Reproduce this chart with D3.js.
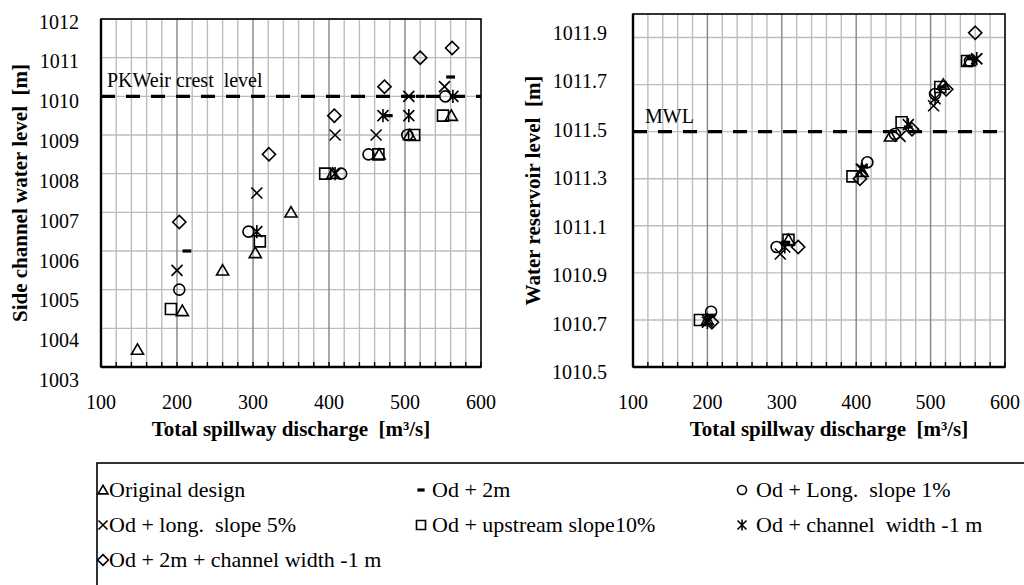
<!DOCTYPE html>
<html><head><meta charset="utf-8">
<script src="https://cdn.jsdelivr.net/npm/d3@7"></script>
<style>body{margin:0;background:#fff} text{white-space:pre}</style></head>
<body><svg id="c" width="1024" height="585" xmlns="http://www.w3.org/2000/svg"></svg>
<script>
// ---------- DATA ----------
const seriesNames = ["Original design","Od + 2m","Od + Long.  slope 1%","Od + long.  slope 5%","Od + upstream slope10%","Od + channel  width -1 m","Od + 2m + channel width -1 m"];
const seriesSymbols = ["triangle","dash","circle","x","square","asterisk","diamond"];
const xTicks = [100,200,300,400,500,600];
const leftYTicks = [1003,1004,1005,1006,1007,1008,1009,1010,1011,1012];
const rightYTicks = [1010.5,1010.7,1010.9,1011.1,1011.3,1011.5,1011.7,1011.9];
const leftRefLevel = 1010, leftRefLabel = "PKWeir crest  level";
const rightRefLevel = 1011.5, rightRefLabel = "MWL";
const xTitle = "Total spillway discharge  [m³/s]";
const leftYTitle = "Side channel water level  [m]";
const rightYTitle = "Water reservoir level  [m]";

// Side channel water level [m] vs discharge
const sideOriginal  = [[148,1003.45],[207,1004.45],[260,1005.5],[303,1005.95],[350,1007],[405,1008],[466,1008.5],[506,1009],[561,1009.5]];
const sidePlus2m    = [[213,1006.0],[478,1009.5],[520,1010.0],[560,1010.5]];
const sideSlope1    = [[203,1005],[294,1006.5],[416,1008],[452,1008.5],[503,1009],[553,1010]];
const sideSlope5    = [[200,1005.5],[305,1007.5],[408,1009],[462,1009],[505,1010],[552,1010.25]];
const sideUpstream  = [[192,1004.5],[309,1006.25],[395,1008],[465,1008.5],[512,1009],[550,1009.5]];
const sideWidth     = [[305,1006.5],[408,1008],[471,1009.5],[505,1009.5],[563,1010]];
const side2mWidth   = [[203,1006.75],[321,1008.5],[407,1009.5],[473,1010.25],[520,1011],[562,1011.25]];

// Water reservoir level [m] vs discharge
const resOriginal   = [[200,1010.70],[309,1011.04],[408,1011.33],[446,1011.48],[517,1011.70],[552,1011.80]];
const resPlus2m     = [[205,1010.72],[305,1011.03],[410,1011.35],[470,1011.52],[515,1011.69],[555,1011.81]];
const resSlope1     = [[205,1010.735],[293,1011.01],[415,1011.37],[452,1011.49],[506,1011.66],[553,1011.80]];
const resSlope5     = [[200,1010.70],[298,1010.98],[408,1011.34],[459,1011.48],[504,1011.61],[562,1011.81]];
const resUpstream   = [[190,1010.70],[309,1011.04],[395,1011.31],[461,1011.54],[513,1011.69],[549,1011.80]];
const resWidth      = [[200,1010.69],[304,1011.01],[407,1011.34],[470,1011.53],[506,1011.64],[562,1011.81]];
const res2mWidth    = [[206,1010.69],[322,1011.01],[405,1011.30],[475,1011.51],[521,1011.68],[560,1011.92]];

const leftSeries  = [sideOriginal, sidePlus2m, sideSlope1, sideSlope5, sideUpstream, sideWidth, side2mWidth];
const rightSeries = [resOriginal, resPlus2m, resSlope1, resSlope5, resUpstream, resWidth, res2mWidth];

// ---------- DRAW ----------
const svg = d3.select("#c");
const FONT = "'Liberation Serif','Times New Roman',serif";
svg.append("rect").attr("width",1024).attr("height",585).attr("fill","#fff");

function markerPath(type, s) {
  switch (type) {
    case "triangle": return `M0,${-s*1.05}L${s*1.1},${s*0.85}L${-s*1.1},${s*0.85}Z`;
    case "circle": return d3.symbol(d3.symbolCircle, Math.PI*s*s)();
    case "square": return `M${-s},${-s}H${s}V${s}H${-s}Z`;
    case "diamond": { const d=s*1.2; return `M0,${-d}L${d},0L0,${d}L${-d},0Z`; }
    case "x": return `M${-s},${-s}L${s},${s}M${s},${-s}L${-s},${s}`;
    case "asterisk": return `M${-s},${-s}L${s},${s}M${s},${-s}L${-s},${s}M0,${-s*1.2}L0,${s*1.2}`;
  }
}
function drawMarker(g, type, x, y, s) {
  if (type === "dash") {
    g.append("rect").attr("x", x - s*0.8).attr("y", y - 1.6).attr("width", s*1.6).attr("height", 3.2).attr("fill", "#000");
  } else {
    g.append("path").attr("d", markerPath(type, s)).attr("transform", `translate(${x},${y})`)
      .attr("fill", "none").attr("stroke", "#000").attr("stroke-width", 1.6);
  }
}

function chart(opt) {
  const g = svg.append("g");
  const x = d3.scaleLinear().domain([100,600]).range(opt.xr);
  const y = d3.scaleLinear().domain(opt.yd).range(opt.yr);
  const yLab = d3.scaleLinear().domain([opt.yTicks[0], opt.yTicks[opt.yTicks.length-1]]).range(opt.labR);
  const [x0,x1] = opt.xr, [yb,yt] = opt.yr;
  const minor = d3.range(120, 600, 20).filter(v => v % 100 !== 0);
  g.selectAll(".vmin").data(minor).join("line")
    .attr("x1", d=>x(d)).attr("x2", d=>x(d)).attr("y1", yb).attr("y2", yt)
    .attr("stroke", "#bdbdbd").attr("stroke-width", 1.4);
  g.selectAll(".hg").data(opt.yTicks.filter(v => v !== opt.yd[0])).join("line")
    .attr("x1", x0).attr("x2", x1).attr("y1", d=>y(d)).attr("y2", d=>y(d))
    .attr("stroke", "#bdbdbd").attr("stroke-width", 1.4);
  g.selectAll(".vmaj").data(xTicks.slice(1, -1)).join("line")
    .attr("x1", d=>x(d)).attr("x2", d=>x(d)).attr("y1", yb).attr("y2", yt)
    .attr("stroke", "#858585").attr("stroke-width", 1.4);
  g.append("line").attr("x1", x0).attr("x2", x1).attr("y1", y(opt.ref)).attr("y2", y(opt.ref))
    .attr("stroke", "#000").attr("stroke-width", 3.2).attr("stroke-dasharray", "14,11");
  g.append("text").attr("x", opt.refX).attr("y", y(opt.ref) + opt.refDy).text(opt.refLabel)
    .attr("font-family", FONT).attr("font-size", 20).attr("fill", "#000");
  g.selectAll(".bt").data(d3.range(100, 601, 20)).join("line")
    .attr("x1", d=>x(d)).attr("x2", d=>x(d)).attr("y1", yb).attr("y2", yb - 5)
    .attr("stroke", "#000").attr("stroke-width", 1.4);
  g.append("rect").attr("x", x0).attr("y", yt).attr("width", x1 - x0).attr("height", yb - yt)
    .attr("fill", "none").attr("stroke", "#000").attr("stroke-width", 1.6);
  g.append("line").attr("x1", x0).attr("x2", x0).attr("y1", yt).attr("y2", yb).attr("stroke", "#000").attr("stroke-width", 2.4);
  g.append("line").attr("x1", x0).attr("x2", x1).attr("y1", yb).attr("y2", yb).attr("stroke", "#000").attr("stroke-width", 2.4);
  g.selectAll(".xl").data(xTicks).join("text")
    .attr("x", d=>x(d)).attr("y", opt.xLabY).attr("text-anchor", "middle").text(d=>d)
    .attr("font-family", FONT).attr("font-size", 20).attr("fill", "#000");
  g.selectAll(".yl").data(opt.yTicks).join("text")
    .attr("x", opt.yLabX).attr("y", d=>yLab(d)).attr("dy", "0.35em").attr("text-anchor", "end")
    .text(d => opt.fmt(d))
    .attr("font-family", FONT).attr("font-size", 20).attr("fill", "#000");
  g.append("text").attr("x", (x0 + x1)/2 + opt.xTitleDx).attr("y", opt.xTitleY).attr("text-anchor", "middle").text(xTitle)
    .attr("font-family", FONT).attr("font-size", 21).attr("font-weight", "bold");
  g.append("text").attr("transform", `translate(${opt.yTitleX},${(yb+yt)/2}) rotate(-90)`).attr("text-anchor", "middle")
    .attr("dy", "0.35em").text(opt.yTitle)
    .attr("font-family", FONT).attr("font-size", 21).attr("font-weight", "bold");
  opt.series.forEach((pts, i) => {
    pts.forEach(p => drawMarker(g, seriesSymbols[i], x(p[0]), y(p[1]), 5.5));
  });
}

chart({ xr:[101,481], yd:[1003,1012], yr:[367,19], yTicks:leftYTicks, labR:[380,21.5],
  fmt: d=>d3.format("d")(d), yLabX:79, xLabY:409, xTitleY:436, xTitleDx:0, yTitleX:20, yTitle:leftYTitle,
  ref:leftRefLevel, refLabel:leftRefLabel, refX:107, refDy:-9, series:leftSeries });
chart({ xr:[633,1005], yd:[1010.5,1012.0], yr:[367,14], yTicks:rightYTicks, labR:[372,33],
  fmt: d=>d3.format(".1f")(d), yLabX:607, xLabY:409, xTitleY:436, xTitleDx:10, yTitleX:533, yTitle:rightYTitle,
  ref:rightRefLevel, refLabel:rightRefLabel, refX:645, refDy:-9, series:rightSeries });

// legend
const lg = svg.append("g");
lg.append("rect").attr("x", 97).attr("y", 463).attr("width", 960).attr("height", 160)
  .attr("fill", "none").attr("stroke", "#000").attr("stroke-width", 1.6);
const colMark = [103, 421, 742], colText = [109, 432, 756], rowBase = [497, 532, 567];
seriesNames.forEach((name, i) => {
  const c = i % 3, r = Math.floor(i / 3);
  drawMarker(lg, seriesSymbols[i], colMark[c], rowBase[r] - 7, 4.5);
  lg.append("text").attr("x", colText[c]).attr("y", rowBase[r]).text(name)
    .attr("font-family", FONT).attr("font-size", 22).attr("fill", "#000");
});
</script></body></html>
